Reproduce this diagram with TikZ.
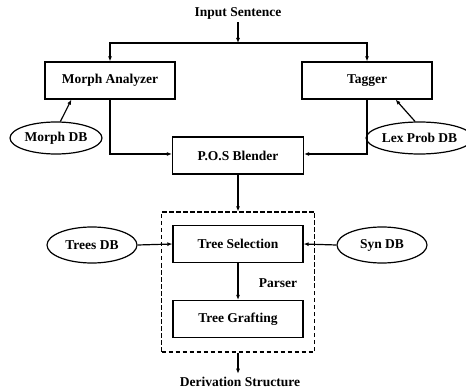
\documentclass[tikz,border=0pt]{standalone}
\usepackage{fontspec}
\setmainfont{Liberation Serif}
\usetikzlibrary{arrows.meta,shapes.geometric}
\begin{document}
\begin{tikzpicture}[x=1pt,y=-1pt,
  every node/.style={font=\fontsize{13.5}{15}\selectfont\bfseries},
  box/.style={draw,line width=1.2pt,rectangle,minimum width=130pt,minimum height=37pt,inner sep=0pt},
  db/.style={draw,line width=1.2pt,ellipse,minimum width=92pt,minimum height=32pt,inner sep=0pt},
  conn/.style={line width=1.2pt,-{Latex[length=5pt,width=4pt]}}]
\useasboundingbox (0,0) rectangle (466,390);
\node (input) at (238,13) {Input Sentence};
\coordinate (split) at (238,43);
\node[box] (ma) at (110,80.5) {Morph Analyzer};
\node[box] (tg) at (367,80.5) {Tagger};
\node[db] (mdb) at (56,138) {Morph DB};
\node[db] (lpdb) at (419.5,138) {Lex Prob DB};
\node[box,minimum width=131pt] (pos) at (238,155.5) {P.O.S Blender};
\node[draw,line width=1.2pt,dash pattern=on 4.5pt off 2.5pt,minimum width=153pt,minimum height=140pt,inner sep=0pt] (parser) at (238,282) {};
\node[box] (ts) at (238,244) {Tree Selection};
\node[box] (tgf) at (238,319) {Tree Grafting};
\node[db,minimum width=90pt,minimum height=36pt] (tdb) at (92,245) {Trees DB};
\node[db,minimum width=90pt,minimum height=36pt] (sdb) at (382,245) {Syn DB};
\node (plabel) at (278,283) {Parser};
\node (deriv) at (240,382) {Derivation Structure};
\draw[conn] (input) -- (split);
\draw[conn] (split) -| (ma.north);
\draw[conn] (split) -| (tg.north);
\draw[conn] (mdb.75) -- ([xshift=27pt]ma.south west);
\draw[conn] (lpdb.105) -- ([xshift=-37pt]tg.south east);
\draw[conn] (ma.south) |- ([yshift=1.5pt]pos.west);
\draw[conn] (tg.south) |- ([yshift=1.5pt]pos.east);
\draw[conn] (pos.south) -- (parser.north);
\draw[conn] (tdb.east) -- (ts.west);
\draw[conn] (sdb.west) -- (ts.east);
\draw[conn] (ts.south) -- (tgf.north);
\draw[conn] (parser.south) -- (parser.south |- deriv.north);
\end{tikzpicture}
\end{document}
